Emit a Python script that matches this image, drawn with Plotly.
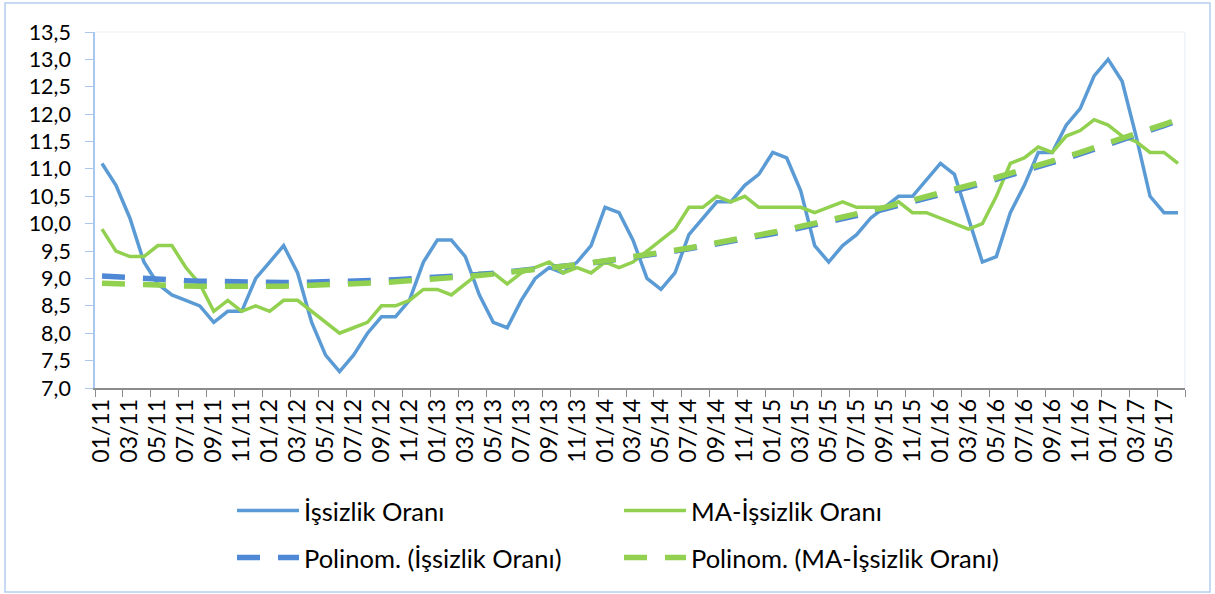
import numpy as np
import plotly.graph_objects as go

# ---- data ----
months = [f"{m:02d}/{y:02d}" for y in range(11, 18) for m in range(1, 13)][:78]  # 01/11 .. 06/17

issizlik = [11.1, 10.7, 10.1, 9.3, 8.9, 8.7, 8.6, 8.5, 8.2, 8.4, 8.4, 9.0, 9.3, 9.6, 9.1, 8.2, 7.6, 7.3, 7.6, 8.0,
            8.3, 8.3, 8.6, 9.3, 9.7, 9.7, 9.4, 8.7, 8.2, 8.1, 8.6, 9.0, 9.2, 9.1, 9.3, 9.6, 10.3, 10.2, 9.7,
            9.0, 8.8, 9.1, 9.8, 10.1, 10.4, 10.4, 10.7, 10.9, 11.3, 11.2, 10.6, 9.6, 9.3, 9.6, 9.8, 10.1, 10.3, 10.5,
            10.5, 10.8, 11.1, 10.9, 10.1, 9.3, 9.4, 10.2, 10.7, 11.3, 11.3, 11.8, 12.1, 12.7, 13.0, 12.6, 11.6, 10.5, 10.2, 10.2]

ma_issizlik = [9.9, 9.5, 9.4, 9.4, 9.6, 9.6, 9.2, 8.9, 8.4, 8.6, 8.4, 8.5, 8.4, 8.6, 8.6, 8.4, 8.2, 8.0, 8.1, 8.2,
               8.5, 8.5, 8.6, 8.8, 8.8, 8.7, 8.9, 9.1, 9.1, 8.9, 9.1, 9.2, 9.3, 9.1, 9.2, 9.1, 9.3, 9.2, 9.3,
               9.5, 9.7, 9.9, 10.3, 10.3, 10.5, 10.4, 10.5, 10.3, 10.3, 10.3, 10.3, 10.2, 10.3, 10.4, 10.3, 10.3, 10.3, 10.4,
               10.2, 10.2, 10.1, 10.0, 9.9, 10.0, 10.5, 11.1, 11.2, 11.4, 11.3, 11.6, 11.7, 11.9, 11.8, 11.6, 11.5, 11.3, 11.3, 11.1]

y_ticks = [7.0 + 0.5 * k for k in range(14)]
y_ticktext = [f"{v:.1f}".replace(".", ",") for v in y_ticks]

names = ["İşsizlik Oranı", "MA-İşsizlik Oranı",
         "Polinom. (İşsizlik Oranı)", "Polinom. (MA-İşsizlik Oranı)"]

# order-2 polynomial trendlines (as in the spreadsheet), fitted to the series
idx = np.arange(1, len(months) + 1)
trend_b = np.polyval(np.polyfit(idx, issizlik, 2), idx)
trend_g = np.polyval(np.polyfit(idx, ma_issizlik, 2), idx)

BLUE = "#5B9BD5"
BLUE_D = "#4F89D6"
GREEN = "#92D050"
FONT = "Lato"

fig = go.Figure()
fig.add_trace(go.Scatter(x=months, y=issizlik, mode="lines", name=names[0],
                         line=dict(color=BLUE, width=3.5), legend="legend"))
fig.add_trace(go.Scatter(x=months, y=ma_issizlik, mode="lines", name=names[1],
                         line=dict(color=GREEN, width=3.5), legend="legend"))
fig.add_trace(go.Scatter(x=months, y=trend_b, mode="lines", name=names[2],
                         line=dict(color=BLUE_D, width=5.5, dash="23px,18px"), legend="legend2"))
fig.add_trace(go.Scatter(x=months, y=trend_g, mode="lines", name=names[3],
                         line=dict(color=GREEN, width=5.5, dash="23px,18px"), legend="legend2"))

legend_common = dict(orientation="h", xanchor="left", yanchor="middle",
                     font=dict(family=FONT, size=25.5, color="#000000"),
                     bgcolor="rgba(0,0,0,0)", entrywidth=310, entrywidthmode="pixels",
                     itemwidth=62,
                     itemclick=False, itemdoubleclick=False, traceorder="normal")

fig.update_layout(
    width=1215, height=594,
    margin=dict(l=95, r=30, t=32, b=206),
    paper_bgcolor="white", plot_bgcolor="white",
    font=dict(family=FONT, size=22, color="#000000"),
    showlegend=True,
    legend=dict(x=(232 - 95) / 1090, y=(388 - 511) / 356, **legend_common),
    legend2=dict(x=(232 - 95) / 1090, y=(388 - 558) / 356, **legend_common),
    xaxis=dict(type="category", range=[-0.5, len(months) - 0.5], dtick=2,
               tickson="boundaries", ticks="outside", ticklen=7, tickcolor="#8C8C8C",
               showline=True, linecolor="#8C8C8C", linewidth=1.5,
               showgrid=False, zeroline=False, tickangle=-90,
               tickfont=dict(family=FONT, size=23, color="#000000")),
    yaxis=dict(range=[7.0, 13.5], tickvals=y_ticks, ticktext=y_ticktext,
               ticks="outside", ticklen=8, tickcolor="#A9C8F0",
               showline=True, linecolor="#A9C8F0", linewidth=1.5,
               showgrid=False, zeroline=False, ticklabelstandoff=10,
               tickfont=dict(family=FONT, size=21.5, color="#000000")),
    shapes=[dict(type="rect", xref="paper", yref="paper",
                 x0=(5 - 95) / 1090, x1=(1210 - 95) / 1090,
                 y0=(388 - 592) / 356, y1=(388 - 3) / 356,
                 line=dict(color="#B4CFF0", width=1.5), layer="below"),
            dict(type="line", xref="paper", yref="paper", x0=1, x1=1, y0=0, y1=1,
                 line=dict(color="#EEF2F8", width=1.5), layer="below"),
            dict(type="line", xref="paper", yref="paper", x0=0, x1=1, y0=1, y1=1,
                 line=dict(color="#F3F5F9", width=1.5), layer="below")],
)

fig.write_html("out.html", config={"displayModeBar": False},
               post_script="document.body.style.margin='0';")
